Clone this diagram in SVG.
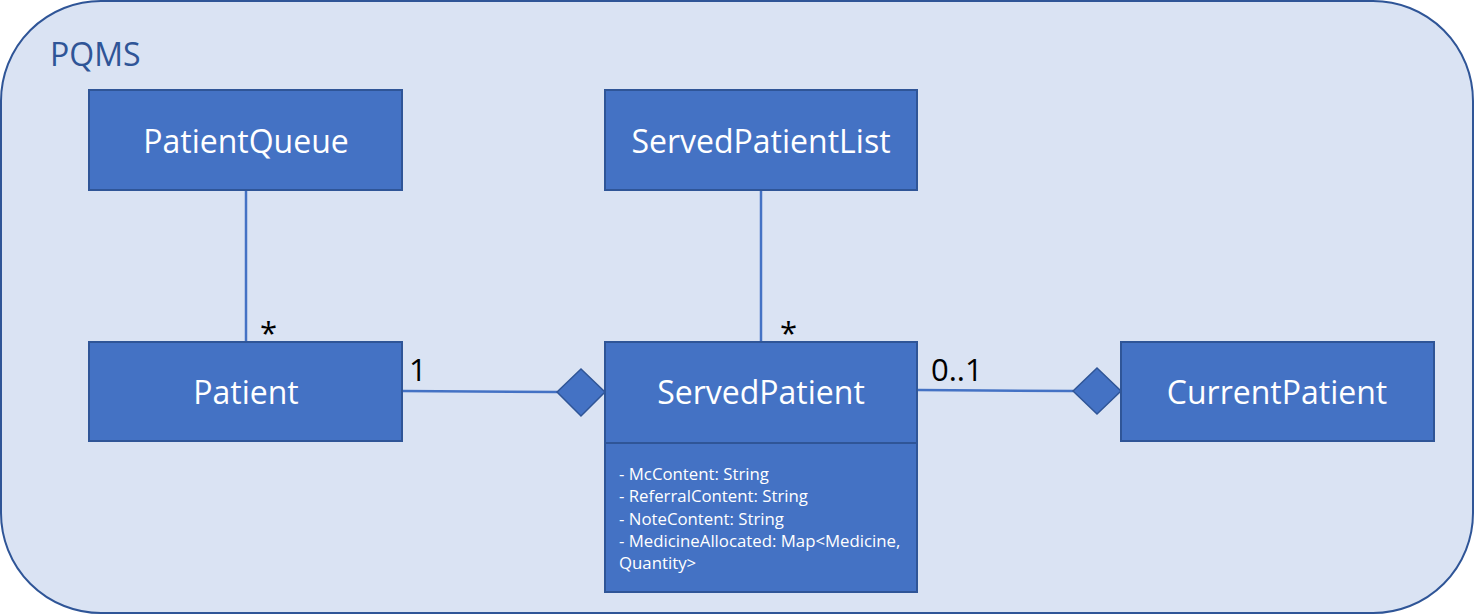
<svg xmlns="http://www.w3.org/2000/svg" width="1475" height="616" viewBox="0 0 1475 616">
  <style>
    .box { fill: #4472C4; stroke: #2F5597; stroke-width: 2; }
    .title { font-family: "Open Sans", "Liberation Sans", sans-serif; font-size: 32px; fill: #FFFFFF; text-anchor: middle; }
    .attr { font-family: "Open Sans", "Liberation Sans", sans-serif; font-size: 16.8px; fill: #FFFFFF; }
    .conn { stroke: #4472C4; stroke-width: 2.5; fill: none; }
    .diamond { fill: #4472C4; stroke: #2F5597; stroke-width: 1.5; }
    .mult { font-family: "Open Sans", "Liberation Sans", sans-serif; font-size: 31px; fill: #000000; }
  </style>
  <g id="container">
    <rect x="1" y="1" width="1472" height="612" rx="100" ry="100" fill="#DAE3F3" stroke="#2F5597" stroke-width="2"/>
    <text x="50" y="66" font-family="&quot;Open Sans&quot;, &quot;Liberation Sans&quot;, sans-serif" font-size="32" fill="#2F5597">PQMS</text>
  </g>
  <g id="connectors">
    <line class="conn" x1="246" y1="190" x2="246" y2="342"/>
    <line class="conn" x1="761" y1="190" x2="761" y2="342"/>
    <line class="conn" x1="402" y1="391" x2="557" y2="392"/>
    <polygon class="diamond" points="557,392 581,369 605,392 581,416"/>
    <line class="conn" x1="918" y1="390" x2="1073" y2="391"/>
    <polygon class="diamond" points="1073,391 1097,368 1121,391 1097,414"/>
    <text class="mult" x="260" y="344">*</text>
    <text class="mult" x="409" y="381">1</text>
    <text class="mult" x="780" y="344">*</text>
    <text class="mult" x="931" y="381">0..1</text>
  </g>
  <g id="PatientQueue">
    <rect class="box" x="89" y="90" width="313" height="100"/>
    <text class="title" x="246" y="153">PatientQueue</text>
  </g>
  <g id="ServedPatientList">
    <rect class="box" x="605" y="90" width="312" height="100"/>
    <text class="title" x="761" y="153">ServedPatientList</text>
  </g>
  <g id="Patient">
    <rect class="box" x="89" y="342" width="313" height="99"/>
    <text class="title" x="246" y="404">Patient</text>
  </g>
  <g id="ServedPatient">
    <rect class="box" x="605" y="342" width="312" height="101"/>
    <text class="title" x="761" y="404">ServedPatient</text>
    <rect class="box" x="605" y="443" width="312" height="149"/>
    <text class="attr" x="619" y="480">- McContent: String</text>
    <text class="attr" x="619" y="502">- ReferralContent: String</text>
    <text class="attr" x="619" y="525">- NoteContent: String</text>
    <text class="attr" x="619" y="547">- MedicineAllocated: Map&lt;Medicine,</text>
    <text class="attr" x="619" y="569">Quantity&gt;</text>
  </g>
  <g id="CurrentPatient">
    <rect class="box" x="1121" y="342" width="313" height="99"/>
    <text class="title" x="1277" y="404">CurrentPatient</text>
  </g>
</svg>
